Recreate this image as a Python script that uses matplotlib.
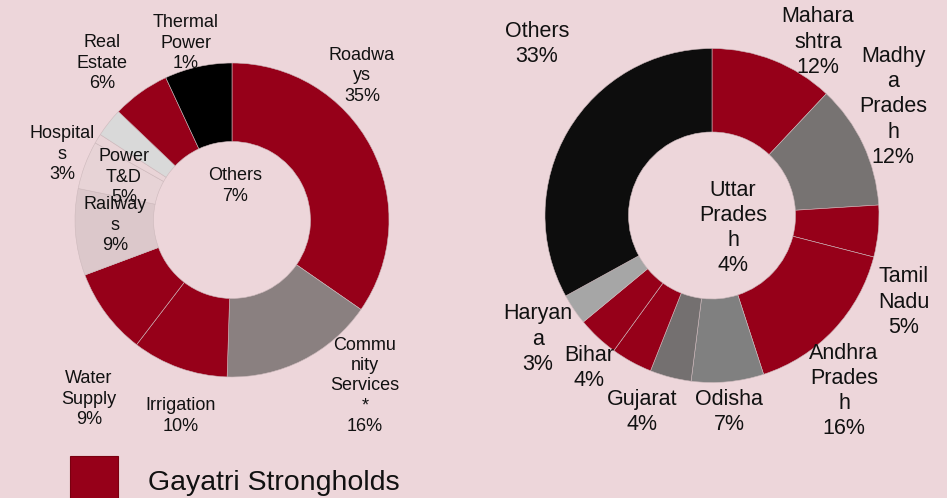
import matplotlib
matplotlib.use("Agg")
import matplotlib.pyplot as plt
from matplotlib.patches import Rectangle

plt.rcParams['font.family'] = ['Liberation Sans', 'DejaVu Sans']

# ---------------- data ----------------
sector_labels = ["Roadwa\nys", "Commu\nnity\nServices\n*", "Irrigation", "Water\nSupply",
                 "Railway\ns", "Power\nT&D", "Thermal\nPower", "Hospital\ns", "Real\nEstate", "Others"]
sector_values = [35, 16, 10, 9, 9, 5, 1, 3, 6, 7]

state_labels = ["Mahara\nshtra", "Madhy\na\nPrades\nh", "Tamil\nNadu", "Andhra\nPrades\nh",
                "Odisha", "Uttar\nPrades\nh", "Gujarat", "Bihar", "Haryan\na", "Others"]
state_values = [12, 12, 5, 16, 7, 4, 4, 4, 3, 33]

legend_label = "Gayatri Strongholds"

# ---------------- styles / layout ----------------
BG = "#edd6da"
RED = "#960019"
sector_colors = [RED, "#8a8080", RED, RED, "#dcc8cb", "#e7d3d6", "#e9d4d7", "#d9d9d9", RED, "#000000"]
state_colors = [RED, "#777372", RED, RED, "#808080", "#747070", RED, RED, "#a6a6a6", "#0d0d0d"]

# label centres in pixels (x, y from top)
sector_label_pos = [(362, 76), (365, 386), (181, 416), (89, 399), (115, 225),
                    (124, 177), (186, 43), (62, 154), (102, 63), (235, 186)]
state_label_pos = [(818, 42), (893, 107), (904, 302), (844, 391), (729, 412),
                   (733, 228), (642, 412), (589, 368), (538, 339), (537, 44)]

W, H = 947, 498
fig = plt.figure(figsize=(W / 100, H / 100), dpi=100, facecolor=BG)


def donut_axes(cx, cy, r):
    ax = fig.add_axes([(cx - r) / W, (H - cy - r) / H, 2 * r / W, 2 * r / H])
    ax.axis('off')
    return ax


def fix_limits(ax):
    ax.set_xlim(-1, 1)
    ax.set_ylim(-1, 1)
    ax.set_aspect('equal')


def px(x, y):
    return x / W, 1 - y / H


ax1 = donut_axes(232, 220, 157)
ax1.pie(sector_values, colors=sector_colors, startangle=90, counterclock=False, radius=1,
        wedgeprops=dict(width=0.5, edgecolor="#cdb9bc", linewidth=0.4))
fix_limits(ax1)

ax2 = donut_axes(712, 215.5, 167)
ax2.pie(state_values, colors=state_colors, startangle=90, counterclock=False, radius=1,
        wedgeprops=dict(width=0.5, edgecolor="#cdb9bc", linewidth=0.4))
fix_limits(ax2)

for lab, v, (x, y) in zip(sector_labels, sector_values, sector_label_pos):
    fig.text(*px(x, y), f"{lab}\n{round(v)}%", ha='center', va='center',
             multialignment='center', fontsize=13, color='#111111', linespacing=1.25)

for lab, v, (x, y) in zip(state_labels, state_values, state_label_pos):
    fig.text(*px(x, y), f"{lab}\n{round(v)}%", ha='center', va='center',
             multialignment='center', fontsize=15.5, color='#111111', linespacing=1.27)

# legend
fig.patches.append(Rectangle(px(70, 504), 48 / W, 48 / H, transform=fig.transFigure,
                             facecolor=RED, edgecolor="#7a0010", linewidth=0.8))
fig.text(*px(148, 483), legend_label, ha='left', va='center', fontsize=20.5, color='#111111')

fig.savefig("out.png", dpi=100, facecolor=BG)
